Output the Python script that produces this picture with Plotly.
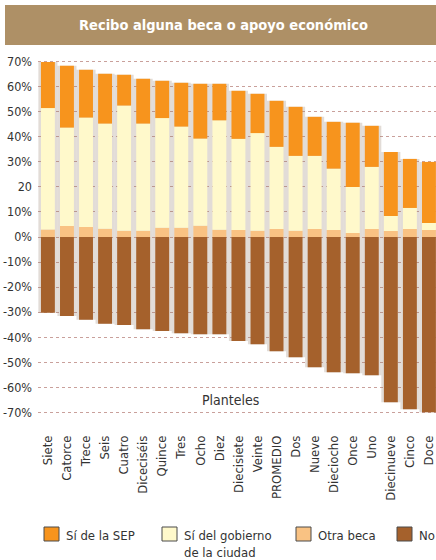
import plotly.graph_objects as go

categories = ["Siete", "Catorce", "Trece", "Seis", "Cuatro", "Diceciséis", "Quince", "Tres",
              "Ocho", "Diez", "Diecisiete", "Veinte", "PROMEDIO", "Dos", "Nueve", "Dieciocho",
              "Once", "Uno", "Diecinueve", "Cinco", "Doce"]
otra_beca = [3.0, 4.4, 4.0, 3.3, 2.5, 2.5, 3.7, 3.7, 4.5, 2.9, 2.8, 2.5, 3.2, 2.5, 3.2, 2.8,
             1.6, 3.2, 2.4, 3.2, 2.8]
gobierno = [48.5, 39.3, 43.7, 42.0, 50.0, 42.8, 43.8, 40.4, 34.8, 43.7, 36.4, 39.0, 32.8, 29.9,
            29.2, 24.5, 18.4, 24.8, 6.0, 8.4, 2.8]
sep = [18.4, 24.7, 19.1, 19.9, 12.3, 17.9, 14.9, 17.5, 21.9, 14.6, 19.2, 15.7, 18.4, 19.6,
       15.6, 18.7, 25.6, 16.4, 25.6, 19.6, 24.4]
no = [30.3, 31.6, 33.1, 34.7, 35.2, 36.8, 37.5, 38.4, 38.8, 38.8, 41.5, 42.8, 45.6, 48.0,
      52.0, 54.0, 54.4, 55.2, 66.0, 68.8, 70.0]
tick_vals = [70, 60, 50, 40, 30, 20, 10, 0, -10, -20, -30, -40, -50, -60, -70]
tick_text = ["70%", "60%", "50%", "40%", "30%", "20", "10%", "0%", "-10%", "-20%", "-30%",
             "-40%", "-50%", "-60%", "-70%"]
legend_names = ["Sí de la SEP", "Sí del gobierno<br>de la ciudad", "Otra beca", "No"]

C_SEP = "#f7941d"
C_GOB = "#fff9cb"
C_OTRA = "#f9c283"
C_NO = "#a5612c"
FONT = "DejaVu Sans Condensed, Liberation Sans Narrow, Roboto, sans-serif"

# pixel geometry helpers (plot area: l=38, r=0, t=58, b=144 in a 436x560 page)
L, T, W, H = 38, 58, 398, 358


def px(x):
    return (x - L) / W


def py(y):
    return (T + H - y) / H


base_sep = [o + g for o, g in zip(otra_beca, gobierno)]
total = [o + g + s for o, g, s in zip(otra_beca, gobierno, sep)]
neg_no = [-n for n in no]

fig = go.Figure()
# soft shadow band behind each bar
fig.add_trace(go.Bar(x=categories, y=[t + n for t, n in zip(total, no)], base=neg_no,
                     width=1.0, marker=dict(color="rgba(150,130,110,0.28)", line=dict(width=0)),
                     showlegend=False, hoverinfo="skip"))
fig.add_trace(go.Bar(x=categories, y=otra_beca, base=[0] * len(categories), width=0.73,
                     marker=dict(color=C_OTRA, line=dict(width=0)), name="Otra beca"))
fig.add_trace(go.Bar(x=categories, y=gobierno, base=otra_beca, width=0.73,
                     marker=dict(color=C_GOB, line=dict(width=0)),
                     name="Sí del gobierno de la ciudad"))
fig.add_trace(go.Bar(x=categories, y=sep, base=base_sep, width=0.73,
                     marker=dict(color=C_SEP, line=dict(width=0)), name="Sí de la SEP"))
fig.add_trace(go.Bar(x=categories, y=neg_no, base=[0] * len(categories), width=0.73,
                     marker=dict(color=C_NO, line=dict(width=0)), name="No"))

fig.update_layout(
    width=436, height=560,
    barmode="overlay",
    showlegend=False,
    paper_bgcolor="white", plot_bgcolor="white",
    margin=dict(l=L, r=0, t=T, b=144),
    font=dict(family=FONT, color="#333333", size=12),
    xaxis=dict(type="category", range=[-0.52, 20.37], showgrid=False, ticks="",
               tickangle=-90, tickfont=dict(size=13, color="#333333"), ticklabelstandoff=16,
               showline=False, zeroline=False, automargin=False),
    yaxis=dict(range=[-71.5, 71.5], tickvals=tick_vals, ticktext=tick_text,
               tickfont=dict(size=12.5, color="#333333"), showgrid=True,
               gridcolor="#c9a09b", griddash="dot", gridwidth=1, zeroline=False,
               ticks="", ticklabelstandoff=5, automargin=False),
)

# title banner
fig.add_shape(type="rect", xref="paper", yref="paper", x0=px(5), x1=px(436),
              y0=py(45), y1=py(5), fillcolor="#ae9066", line=dict(width=0), layer="below")
fig.add_annotation(xref="paper", yref="paper", x=px(223), y=py(25),
                   text="<b>Recibo alguna beca o apoyo económico</b>", showarrow=False,
                   font=dict(size=14.5, color="white", family=FONT), xanchor="center",
                   yanchor="middle")
fig.add_annotation(xref="paper", yref="y", x=px(230), y=-65, text="Planteles",
                   showarrow=False, font=dict(size=14, color="#333333", family=FONT),
                   xanchor="center", yanchor="middle")

# legend (swatches + labels)
legend_colors = [C_SEP, C_GOB, C_OTRA, C_NO]
legend_x = [44, 162, 296, 397]
for name, col, lx in zip(legend_names, legend_colors, legend_x):
    fig.add_shape(type="rect", xref="paper", yref="paper", x0=px(lx), x1=px(lx + 15),
                  y0=py(541), y1=py(527), fillcolor=col,
                  line=dict(color="#4a4a4a", width=1))
    fig.add_annotation(xref="paper", yref="paper", x=px(lx + 20), y=py(526), text=name,
                       showarrow=False, xanchor="left", yanchor="top", align="left",
                       font=dict(size=13, color="#333333", family=FONT))

fig.write_html(
    "out.html",
    config={"displayModeBar": False},
    post_script="document.body.style.margin='0';document.body.style.overflow='hidden';",
)
